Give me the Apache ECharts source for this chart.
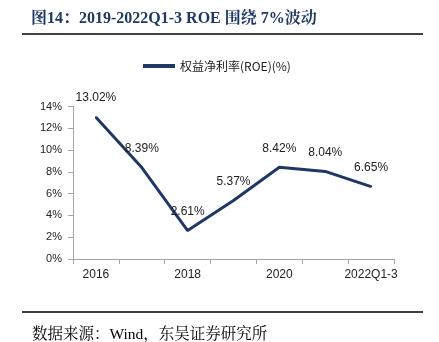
<!DOCTYPE html>
<html><head><meta charset="utf-8">
<script src="https://cdn.jsdelivr.net/npm/echarts@6/dist/echarts.min.js"></script>
<style>html,body{margin:0;padding:0;background:#fff}#c{width:439px;height:342px}</style>
</head><body><div id="c"></div>
<script>
const categories = ['2016','2017','2018','2019','2020','2021','2022Q1-3'];
const roe = [13.02, 8.39, 2.61, 5.37, 8.42, 8.04, 6.65];
const yTicks = [0, 2, 4, 6, 8, 10, 12, 14];
const seriesName = '权益净利率(ROE)(%)';
const titleText = '图14：2019-2022Q1-3 ROE 围绕 7%波动';
const sourceText = '数据来源：Wind，东吴证券研究所';

const chart = echarts.init(document.getElementById('c'));
chart.setOption({
  animation: false,
  backgroundColor: '#fff',
  graphic: [
    {type:'text', left: 31, top: 11, style:{text: titleText, font:'bold 16px "Liberation Serif","Noto Serif CJK SC","Noto Sans CJK SC",serif', fill:'#1f3864'}},
    {type:'line', shape:{x1:22,y1:34,x2:423,y2:34}, style:{stroke:'#000', lineWidth:1.5}},
    {type:'line', shape:{x1:22,y1:312,x2:423,y2:312}, style:{stroke:'#000', lineWidth:1.5}},
    {type:'text', left: 32, top: 327, style:{text: sourceText, font:'15.5px "Liberation Serif","Noto Serif CJK SC","Noto Sans CJK SC",serif', fill:'#000'}}
  ],
  legend: {
    top: 55, left: 138,
    itemWidth: 32, itemHeight: 4,
    itemGap: 4,
    icon: 'rect',
    textStyle: {fontSize: 12, color: '#222', fontFamily: '"Noto Sans CJK SC",sans-serif'},
    data: [{name: seriesName, itemStyle: {color: '#1f3864'}}]
  },
  grid: {left: 73, right: 45, top: 106.5, bottom: 83},
  xAxis: {
    type: 'category',
    data: categories,
    boundaryGap: true,
    axisLine: {lineStyle: {color: '#a6a6a6', width: 1}},
    axisTick: {show: true, alignWithLabel: false, interval: 0, lineStyle: {color: '#a6a6a6'}},
    axisLabel: {interval: 1, color: '#222', fontSize: 12, margin: 10, fontFamily: 'Liberation Sans, Arial, sans-serif'}
  },
  yAxis: {
    type: 'value',
    min: yTicks[0], max: yTicks[yTicks.length-1], interval: 2,
    axisLine: {show: true, lineStyle: {color: '#a6a6a6'}},
    axisTick: {show: true, lineStyle: {color: '#a6a6a6'}},
    splitLine: {show: false},
    axisLabel: {formatter: '{value}%', color: '#222', fontSize: 11, margin: 11, fontFamily: 'Liberation Sans, Arial, sans-serif'}
  },
  series: [{
    name: seriesName,
    type: 'line',
    data: roe,
    symbol: 'circle',
    symbolSize: 2,
    showSymbol: true,
    itemStyle: {color: '#1f3864'},
    lineStyle: {color: '#1f3864', width: 3},
    label: {show: true, position: 'top', distance: 12, formatter: p => p.value.toFixed(2) + '%', color: '#222', fontSize: 12, fontFamily: 'Liberation Sans, Arial, sans-serif'}
  }]
});
</script></body></html>
